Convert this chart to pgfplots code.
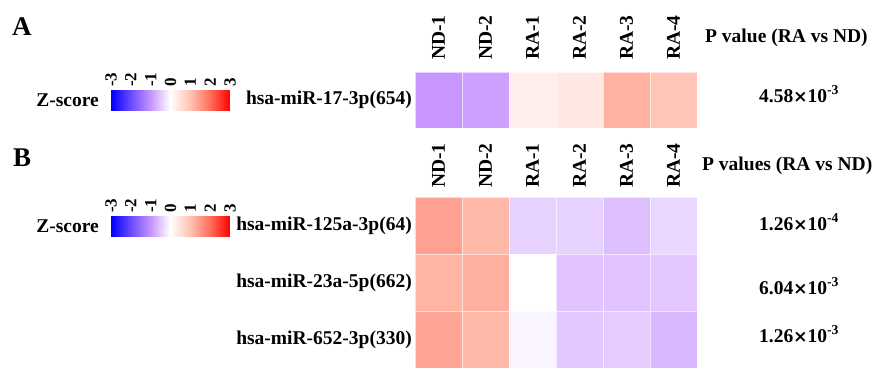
\documentclass[border=0pt]{standalone}
\usepackage{fontspec}
\setmainfont{Liberation Serif}
\newfontfamily\dv{DejaVu Sans}
\usepackage{pgfplots}
\pgfplotsset{compat=1.18}
\newcommand\lf{\fontsize{19.5}{22}\selectfont\bfseries}
\newcommand\cf{\fontsize{17}{18}\selectfont\bfseries}
\newcommand\tm{{\dv\bfseries\fontsize{17}{18}\selectfont ×}}
\pgfplotsset{
  colormap={zs}{rgb255=(0,0,255) rgb255=(110,75,255) rgb255=(200,150,255) rgb255=(255,255,255) rgb255=(255,195,180) rgb255=(255,110,90) rgb255=(255,0,0)},
  heat/.style={
    scale only axis, anchor=north west,
    xmin=-0.5, xmax=5.5,
    axis line style={draw=none}, major tick length=0pt,
    xtick={0,...,5}, xticklabels={ND-1,ND-2,RA-1,RA-2,RA-3,RA-4},
    xticklabel pos=upper,
    ticklabel style={font=\lf, inner sep=0pt},
    yticklabel style={anchor=east, xshift=-3pt},
    point meta min=-3, point meta max=3,
    colormap name=zs,
  },
  cbar/.style={
    anchor=north west, scale only axis, width=119pt, height=20pt,
    xmin=-3, xmax=3, ymin=0, ymax=1,
    xtick={-3,...,3}, xticklabels={-3,-2,-1,0,1,2,3}, ytick=\empty,
    xticklabel pos=upper,
    xticklabel style={rotate=90, anchor=west, inner sep=0pt, xshift=3pt, font=\cf},
    axis line style={draw=none},
    major tick length=3pt, major tick style={white, line width=0.6pt},
    point meta min=-3, point meta max=3, colormap name=zs,
  },
  cell/.style={scatter, only marks, mark=square*, mark size=23.5pt,
    scatter/use mapped color={draw=white, draw opacity=0.6, fill=mapped color},
    point meta=explicit},
}
\begin{document}
\begin{tikzpicture}
\path[use as bounding box] (0,0) rectangle (875pt,-370pt);
% Panel A
\begin{axis}[heat, at={(415pt,-72pt)}, width=282pt, height=56pt,
  ymin=-0.5, ymax=0.5, ytick={0}, yticklabels={hsa-miR-17-3p(654)},
  xticklabel style={rotate=90, anchor=west, xshift=12pt},
  ]
\addplot[cell, mark options={yscale=1.1915, line width=0.5pt}] table[meta=z] {
x y z
0 0 -1.00
1 0 -0.90
2 0 0.28
3 0 0.38
4 0 1.20
5 0 0.95
};
\end{axis}
\begin{axis}[cbar, at={(111pt,-90pt)}]
\addplot[surf, shader=interp, mesh/rows=2, mesh/cols=7, point meta=x] coordinates {
(-3,0) (-2,0) (-1,0) (0,0) (1,0) (2,0) (3,0)
(-3,1) (-2,1) (-1,1) (0,1) (1,1) (2,1) (3,1)
};
\end{axis}
% Panel B
\begin{axis}[heat, at={(415pt,-197pt)}, width=282pt, height=171pt,
  ymin=-0.5, ymax=2.5, y dir=reverse, ytick={0,1,2},
  yticklabels={hsa-miR-125a-3p(64),hsa-miR-23a-5p(662),hsa-miR-652-3p(330)},
  xticklabel style={rotate=90, anchor=west, xshift=9pt},
  ]
\addplot[cell, mark options={yscale=1.2128, line width=0.5pt}] table[meta=z] {
x y z
0 0 1.40
1 0 1.12
2 0 -0.43
3 0 -0.43
4 0 -0.62
5 0 -0.38
0 1 1.18
1 1 1.24
2 1 0.00
3 1 -0.57
4 1 -0.57
5 1 -0.52
0 2 1.35
1 2 1.12
2 2 -0.10
3 2 -0.52
4 2 -0.48
5 2 -0.67
};
\end{axis}
\begin{axis}[cbar, at={(111pt,-216pt)}]
\addplot[surf, shader=interp, mesh/rows=2, mesh/cols=7, point meta=x] coordinates {
(-3,0) (-2,0) (-1,0) (0,0) (1,0) (2,0) (3,0)
(-3,1) (-2,1) (-1,1) (0,1) (1,1) (2,1) (3,1)
};
\end{axis}
% Texts
\node[anchor=base west, inner sep=0pt, font=\fontsize{27}{28}\selectfont\bfseries] at (12pt,-35pt) {A};
\node[anchor=base west, inner sep=0pt, font=\fontsize{27}{28}\selectfont\bfseries] at (13pt,-166pt) {B};
\node[anchor=base east, inner sep=0pt, font=\lf] at (99pt,-106pt) {Z-score};
\node[anchor=base east, inner sep=0pt, font=\lf] at (99pt,-232pt) {Z-score};
\node[anchor=base west, inner sep=0pt, font=\lf] at (705pt,-42pt) {P value (RA vs ND)};
\node[anchor=base west, inner sep=0pt, font=\lf] at (702pt,-170pt) {P values (RA vs ND)};
\node[anchor=base, inner sep=0pt, font=\lf] at (799pt,-102pt) {4.58\tm10\textsuperscript{-3}};
\node[anchor=base, inner sep=0pt, font=\lf] at (799pt,-230pt) {1.26\tm10\textsuperscript{-4}};
\node[anchor=base, inner sep=0pt, font=\lf] at (799pt,-294pt) {6.04\tm10\textsuperscript{-3}};
\node[anchor=base, inner sep=0pt, font=\lf] at (799pt,-342pt) {1.26\tm10\textsuperscript{-3}};
\end{tikzpicture}
\end{document}
